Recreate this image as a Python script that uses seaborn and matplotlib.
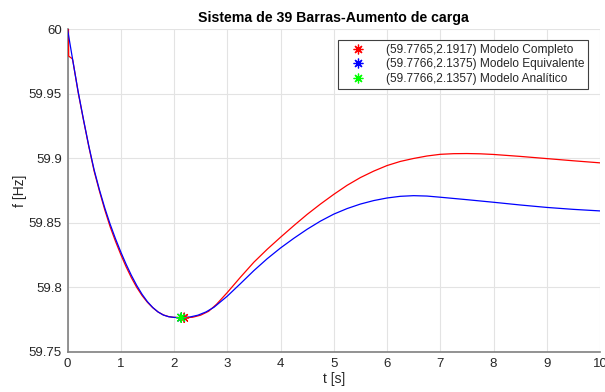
import matplotlib
matplotlib.use("Agg")
import matplotlib.pyplot as plt
import seaborn as sns
import pandas as pd
from matplotlib.lines import Line2D

# ---- data ----
t_completo = [0, 0.018, 0.022, 0.09, 0.1, 0.2, 0.3, 0.4, 0.5, 0.6, 0.7, 0.8, 0.9, 1.0, 1.1,
              1.2, 1.3, 1.4, 1.5, 1.6, 1.7, 1.8, 1.9, 2.0, 2.19, 2.35, 2.5, 2.65, 2.8, 3.0,
              3.25, 3.5, 3.75, 4.0, 4.25, 4.5, 4.75, 5.0, 5.25, 5.5, 5.75, 6.0, 6.25, 6.5,
              6.75, 7.0, 7.25, 7.5, 7.75, 8.0, 8.5, 9.0, 9.5, 10.0]
f_completo = [60.0, 60.0, 59.979, 59.977, 59.9755, 59.951, 59.9295, 59.909, 59.890, 59.8745,
              59.860, 59.847, 59.8358, 59.8255, 59.816, 59.8075, 59.800, 59.7937, 59.7885,
              59.7843, 59.781, 59.7787, 59.7774, 59.7768, 59.7765, 59.7769, 59.7785,
              59.7815, 59.787, 59.796, 59.808, 59.8195, 59.8295, 59.8388, 59.8478, 59.8565,
              59.8645, 59.872, 59.879, 59.885, 59.890, 59.8943, 59.8975, 59.8998, 59.9017,
              59.903, 59.9035, 59.9036, 59.9034, 59.9029, 59.9014, 59.8997, 59.898, 59.8964]

t_equiv = [0, 0.1, 0.2, 0.3, 0.4, 0.5, 0.6, 0.7, 0.8, 0.9, 1.0, 1.1, 1.2, 1.3, 1.4, 1.5,
           1.6, 1.7, 1.8, 1.9, 2.0, 2.14, 2.3, 2.45, 2.6, 2.75, 3.0, 3.25, 3.5, 3.75, 4.0,
           4.25, 4.5, 4.75, 5.0, 5.25, 5.5, 5.75, 6.0, 6.25, 6.5, 6.75, 7.0, 7.5, 8.0, 8.5,
           9.0, 9.5, 10.0]
f_equiv = [60.0, 59.9755, 59.9515, 59.930, 59.9095, 59.891, 59.8755, 59.8615, 59.849,
           59.8378, 59.8275, 59.818, 59.8093, 59.8015, 59.7947, 59.789, 59.7845, 59.781,
           59.7786, 59.7773, 59.7768, 59.7766, 59.7771, 59.7785, 59.781, 59.7846, 59.7932,
           59.803, 59.813, 59.8222, 59.8305, 59.838, 59.845, 59.8513, 59.8567, 59.861,
           59.8645, 59.8672, 59.8692, 59.8705, 59.871, 59.8707, 59.8698, 59.8679, 59.8659,
           59.8638, 59.8619, 59.8604, 59.8592]

min_t = [2.1917, 2.1375, 2.1357]
min_f = [59.7765, 59.7766, 59.7766]
min_labels = ["(59.7765,2.1917) Modelo Completo",
              "(59.7766,2.1375) Modelo Equivalente",
              "(59.7766,2.1357) Modelo Analítico"]
min_colors = ["#ff0000", "#0000ff", "#00ff00"]

x_ticks = list(range(0, 11))
y_ticks = [59.75, 59.8, 59.85, 59.9, 59.95, 60]
y_ticklabels = ["59.75", "59.8", "59.85", "59.9", "59.95", "60"]

sns.set_style("white")
plt.rcParams["font.family"] = ["Liberation Sans", "DejaVu Sans"]

df_c = pd.DataFrame({"t": t_completo, "f": f_completo})
df_e = pd.DataFrame({"t": t_equiv, "f": f_equiv})
df_m = pd.DataFrame({"t": min_t, "f": min_f, "lab": min_labels})

fig = plt.figure(figsize=(6.05, 3.92), dpi=100)
ax = fig.add_axes([67.5 / 605, 1 - 352 / 392, 532.5 / 605, 323 / 392])

sns.lineplot(data=df_c, x="t", y="f", ax=ax, color="#ff0000", lw=0.9, sort=False,
             estimator=None, zorder=3)
sns.lineplot(data=df_e, x="t", y="f", ax=ax, color="#0000ff", lw=0.9, sort=False,
             estimator=None, zorder=3)
sns.scatterplot(data=df_m, x="t", y="f", hue="lab", palette=min_colors, ax=ax,
                marker=(8, 2, 0), s=45, linewidth=0.9, zorder=4, legend=False)

ax.set_xlim(0, 10)
ax.set_ylim(59.75, 60)
ax.set_xticks(x_ticks)
ax.set_yticks(y_ticks)
ax.set_yticklabels(y_ticklabels)
ax.grid(True, color="#e3e3e3", lw=0.8)
ax.set_axisbelow(True)
for s in ["top", "right"]:
    ax.spines[s].set_visible(False)
for s in ["left", "bottom"]:
    ax.spines[s].set_color("#808080")
    ax.spines[s].set_linewidth(1.2)
ax.tick_params(direction="in", length=3, width=0.8, color="#707070",
               labelsize=9.5, labelcolor="#262626", pad=4)
ax.set_xlabel("t [s]", fontsize=10, color="#262626", labelpad=2)
ax.set_ylabel("f [Hz]", fontsize=10, color="#262626", labelpad=1)
ax.set_title("Sistema de 39 Barras-Aumento de carga", fontsize=10.2, fontweight="bold",
             color="black", pad=5)

handles = [Line2D([], [], ls="none", marker=(8, 2, 0), color=c, markersize=7,
                  markeredgewidth=0.9) for c in min_colors]
leg = ax.legend(handles, min_labels, loc="upper right",
                bbox_to_anchor=((588 - 67.5) / 532.5, (352 - 40) / 323),
                borderaxespad=0.0,
                fontsize=8.6, frameon=True, fancybox=False, framealpha=1,
                edgecolor="#404040", handlelength=2.8, handletextpad=0.9,
                borderpad=0.32, labelspacing=0.22)
leg.get_frame().set_linewidth(0.8)

fig.savefig("out.png", dpi=100)
